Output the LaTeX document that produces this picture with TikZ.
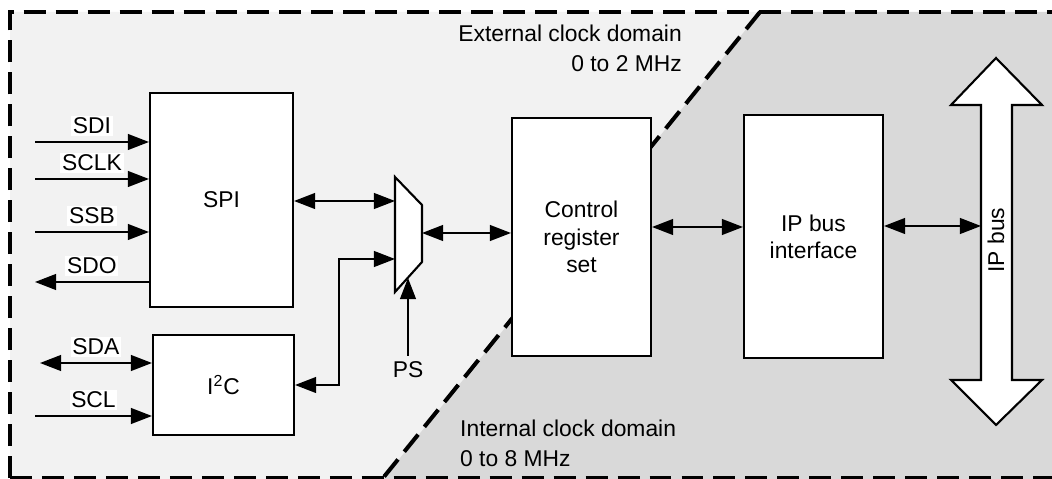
\documentclass[tikz,border=0pt]{standalone}
\usepackage{fontspec}
\setmainfont{Liberation Sans}
\usetikzlibrary{arrows.meta}
\definecolor{extgray}{HTML}{F2F2F2}
\definecolor{intgray}{HTML}{D9D9D9}
\begin{document}
\begin{tikzpicture}[x=0.02cm, y=-0.02cm,
			every node/.style = {font=\fontsize{13}{15.5}\selectfont},
			block/.style = {draw, fill=white, line width=1.2pt, align=center, inner sep=0pt},
			sig/.style = {line width=1pt, >={Triangle[length=12pt,width=9pt]}},
			lbl/.style = {fill=white, inner sep=1pt, above=3pt},
			clocktext/.style = {font=\fontsize{13}{17}\selectfont},
			border/.style = {line width=2.3pt, dash pattern=on 12.5pt off 5.7pt}]
			
			\useasboundingbox (0,0) rectangle (1052,479);
			% clock domains
			\fill[extgray] (10,12) -- (760,12) -- (383,479) -- (10,479) -- cycle;
			\fill[intgray] (760,12) -- (1052,12) -- (1052,479) -- (383,479) -- cycle;
			\begin{scope}
				\clip (0,0) rectangle (1052,479);
				\draw[border] (10,478) -- (10,12) -- (1060,12);
				\draw[border] (10,478) -- (1060,478);
				\draw[border] (760,12) -- (383,478);
			\end{scope}
			\node[clocktext, anchor=east, align=right] (ext) at (688,48) {External clock domain\\0 to 2 MHz};
			\node[clocktext, anchor=west, align=left] (int) at (454,443) {Internal clock domain\\0 to 8 MHz};
			
			% blocks
			\node[block, minimum width=2.86cm, minimum height=4.28cm] (spi) at (221.5,200) {SPI};
			\node[block, minimum width=2.82cm, minimum height=2cm] (i2c) at (223.5,385) {I\textsuperscript{2}C};
			\node[block, minimum width=2.78cm, minimum height=4.76cm] (ctrl) at (581.5,237) {Control\\register\\set};
			\node[block, minimum width=2.78cm, minimum height=4.86cm] (ipif) at (813.5,236.5) {IP bus\\interface};
			
			% mux
			\draw[fill=white, line width=1.2pt] (395,177) -- (422,205) -- (422,262) -- (395,292) -- cycle;
			\coordinate (muxA) at (395,201);
			\coordinate (muxB) at (395,259);
			\coordinate (muxC) at (422,233);
			\coordinate (muxS) at (408,278);
			
			% IP bus
			\draw[fill=white, line width=1.2pt] (996,58) -- (1042,105) -- (1012,105) -- (1012,380) -- (1042,380)
				-- (996,425) -- (951,380) -- (981,380) -- (981,105) -- (951,105) -- cycle;
			\node[rotate=90] (ipbus) at (996,240) {IP bus};
			\coordinate (busL) at (981,226);
			
			% serial pins
			\foreach \pin/\y in {SDI/142, SCLK/179, SSB/232} {
				\coordinate (\pin) at (35,\y);
				\draw[sig, ->] (\pin) -- (spi.west |- \pin) node[lbl, midway] {\pin};
			}
			\coordinate (SDO) at (35,282);
			\draw[sig, ->] (spi.west |- SDO) -- (SDO) node[lbl, midway] {SDO};
			\coordinate (SDA) at (40,363);
			\draw[sig, <->] (SDA) -- (i2c.west |- SDA) node[lbl, midway] {SDA};
			\coordinate (SCL) at (35,416);
			\draw[sig, ->] (SCL) -- (i2c.west |- SCL) node[lbl, midway] {SCL};
			
			% internal links
			\node (ps) at (408,370) {PS};
			\draw[sig, ->] (ps.north) -- (muxS);
			\draw[sig, <->] (spi.east |- muxA) -- (muxA);
			\draw[sig, <->] (muxB) -- ++(-56,0) |- (i2c.east);
			\draw[sig, <->] (muxC) -- (ctrl.west |- muxC);
			\coordinate (ci) at ([yshift=0.2cm]ctrl.east);
			\draw[sig, <->] (ci) -- (ci -| ipif.west);
			\draw[sig, <->] (ipif.east |- busL) -- (busL);
			\end{tikzpicture}
\end{document}
